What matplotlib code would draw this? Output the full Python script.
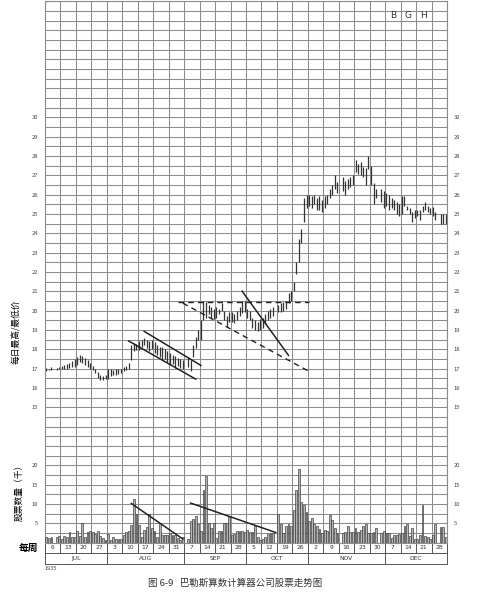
import numpy as np
import pandas as pd
import matplotlib
matplotlib.use("Agg")
import matplotlib.pyplot as plt

plt.rcParams['font.family'] = ['Noto Sans CJK SC', 'DejaVu Sans']

# 1935 sessions ran Mon-Sat; holidays dropped
holidays = ['1935-07-04', '1935-09-02', '1935-10-12', '1935-11-11', '1935-11-28', '1935-12-25']
days = pd.bdate_range('1935-07-01', '1935-12-28', freq='C',
                      weekmask='Mon Tue Wed Thu Fri Sat', holidays=holidays)
week_end = pd.date_range('1935-07-06', '1935-12-28', freq='7D')

# daily high / low, one line per week
highs = [
    17.05, 17.0, 17.1, 17.05, 17.1,
    17.15, 17.2, 17.25, 17.3, 17.4, 17.5,
    17.6, 17.7, 17.65, 17.55, 17.45, 17.3,
    17.15, 17.0, 16.8, 16.65, 16.6, 16.65,
    16.95, 17.0, 16.9, 16.95, 16.95, 17.0,
    17.1, 17.15, 17.3, 18.2, 18.3, 18.25,
    18.4, 18.5, 18.6, 18.5, 18.4, 18.45,
    18.35, 18.2, 18.1, 18.1, 18.0, 17.9,
    17.8, 17.7, 17.65, 17.55, 17.5, 17.45,
    17.55, 17.45, 18.2, 18.65, 19.0,
    19.5, 20.5, 20.45, 20.3, 20.2, 20.1,
    20.2, 20.1, 20.4, 20.0, 19.7, 19.9,
    19.9, 19.8, 20.0, 20.2, 20.5, 20.5,
    20.1, 20.0, 19.6, 19.5, 19.4, 19.55,
    19.6, 19.8, 20.0, 20.1, 20.2,
    20.3, 20.4, 20.45, 20.5, 20.9, 21.0,
    21.5, 22.5, 23.7, 24.2, 25.8, 26.0,
    26.0, 25.9, 26.0, 25.8, 25.9, 25.7,
    25.9, 26.0, 26.3, 26.5, 27.0, 26.65,
    26.9, 26.7, 26.8, 26.9, 27.0,
    27.8, 27.6, 27.7, 27.4, 27.35, 28.0,
    27.5, 26.6, 26.3, 26.3, 26.2,
    26.1, 26.0, 25.8, 25.7, 25.6, 25.5,
    25.9, 25.9, 25.4, 25.3, 25.1, 25.2,
    25.2, 25.2, 25.4, 25.6, 25.4, 25.3,
    25.35, 25.1, 25.0, 25.0, 25.0,
]
lows = [
    16.85, 16.9, 16.9, 16.9, 16.95,
    16.95, 16.95, 17.0, 17.05, 17.1, 17.1,
    17.2, 17.35, 17.3, 17.2, 17.1, 17.0,
    16.9, 16.75, 16.5, 16.4, 16.4, 16.45,
    16.45, 16.6, 16.65, 16.65, 16.7, 16.75,
    16.85, 16.9, 16.95, 17.45, 17.9, 17.95,
    17.95, 18.1, 18.2, 18.05, 17.9, 18.0,
    17.8, 17.7, 17.6, 17.45, 17.5, 17.35,
    17.2, 17.25, 17.05, 17.15, 17.05, 16.95,
    17.1, 16.85, 17.6, 18.05, 18.45,
    18.5, 19.5, 19.6, 19.8, 19.6, 19.55,
    19.6, 19.8, 19.95, 19.5, 19.15, 19.4,
    19.4, 19.35, 19.5, 19.7, 19.85, 19.9,
    19.6, 19.5, 19.1, 19.0, 18.95, 19.0,
    19.1, 19.3, 19.5, 19.6, 19.7,
    19.9, 19.9, 20.0, 20.1, 20.4, 20.5,
    21.0, 21.9, 22.5, 23.5, 24.6, 25.3,
    25.4, 25.3, 25.5, 25.2, 25.2, 25.1,
    25.3, 25.5, 25.8, 25.95, 26.3, 26.1,
    26.2, 26.0, 26.3, 26.4, 26.5,
    27.15, 27.05, 27.0, 26.9, 26.5, 27.3,
    26.5, 25.5, 25.8, 25.6, 25.3,
    25.4, 25.2, 25.3, 25.2, 25.0, 24.9,
    25.0, 25.4, 25.2, 25.0, 24.6, 24.8,
    24.9, 24.7, 25.1, 25.2, 25.1, 25.0,
    24.9, 24.7, 24.5, 24.5, 24.5,
]
# daily volume, thousands of shares
volume = [
    1.3, 1.1, 1.5, 1.4, 1.6,
    0.9, 1.6, 1.3, 2.7, 1.3, 1.4,
    3.1, 1.6, 5.0, 1.5, 2.6, 2.9,
    2.6, 2.2, 2.9, 1.8, 1.1, 0.7,
    2.2, 0.7, 1.4, 0.9, 0.8, 0.8,
    2.0, 2.8, 2.9, 4.5, 11.3, 7.5,
    4.5, 1.5, 3.3, 4.0, 7.3, 3.8,
    3.0, 1.5, 5.0, 2.0, 2.0, 2.0,
    2.4, 2.0, 2.0, 1.1, 0.7, 1.4,
    1.0, 5.5, 6.0, 6.8, 4.8,
    2.9, 13.7, 17.3, 5.0, 3.8, 5.0,
    1.1, 2.9, 2.9, 5.0, 5.0, 6.5,
    2.0, 2.2, 2.9, 3.1, 3.0, 2.6,
    3.3, 2.8, 2.8, 4.3, 1.3, 0.6,
    0.9, 1.5, 2.2, 2.5, 2.5,
    7.4, 4.8, 2.4, 4.3, 4.8, 4.3,
    8.5, 13.5, 19.0, 10.4, 9.8, 8.0,
    5.5, 6.3, 4.8, 4.3, 3.5, 2.5,
    3.3, 2.9, 7.2, 5.8, 3.7, 2.5,
    2.5, 2.7, 4.2, 2.7, 2.7,
    3.7, 2.6, 3.3, 4.3, 4.8, 2.4,
    2.4, 2.6, 3.7, 2.4, 2.9,
    2.4, 2.4, 1.1, 2.0, 2.0, 2.2,
    2.4, 4.2, 4.8, 1.8, 3.7, 1.0,
    0.9, 2.0, 9.8, 1.7, 1.4, 0.9,
    2.0, 4.8, 3.9, 3.9, 1.4,
]

# hand-drawn trend lines: (date, value) pairs
price_solid = [
    [('1935-08-14', 18.92), ('1935-09-09', 17.16)],
    [('1935-08-07', 18.42), ('1935-09-06', 16.45)],
    [('1935-09-27', 21.0), ('1935-10-18', 17.68)],
]
price_dashed = [
    [('1935-08-29', 20.45), ('1935-10-27', 20.45)],
    [('1935-08-31', 20.38), ('1935-10-27', 16.85)],
]
volume_lines = [
    [('1935-08-08', 10.1), ('1935-08-31', 0.9)],
    [('1935-09-04', 10.2), ('1935-10-12', 2.6)],
]

price_ticks = list(range(15, 31))
volume_ticks = [5, 10, 15, 20]

start = pd.Timestamp('1935-07-01')


def x_of(d):
    d = pd.Timestamp(d)
    return (d - start).days // 7 + (d.weekday() + 0.5) / 6


xs = np.array([x_of(d) for d in days])
n_weeks = len(week_end)
grid_c = '#8c8c8c'

fig = plt.figure(figsize=(4.96, 6.0), dpi=100)
ax = fig.add_axes([45 / 496, 1 - 542.5 / 600, 402 / 496, 541.3 / 600])
ax.set_xlim(0, n_weeks)
ax.set_ylim(8, 36)
ax.set_xticks(np.arange(0, n_weeks + 1))
yt = np.arange(8, 36.01, 0.5)
ax.set_yticks(yt)
ax.set_yticklabels([str(int(v)) if v == int(v) and v in price_ticks else '' for v in yt])
ax.grid(True, color=grid_c, lw=0.75)
ax.set_axisbelow(True)
for s in ax.spines.values():
    s.set_color(grid_c)
    s.set_linewidth(0.8)

ax.vlines(xs, lows, highs, color='#333333', lw=0.9)
for seg in price_solid:
    ax.plot([x_of(d) for d, v in seg], [v for d, v in seg], color='#222', lw=1.1)
for seg in price_dashed:
    ax.plot([x_of(d) for d, v in seg], [v for d, v in seg], color='#222', lw=1.0,
            dashes=(4, 3))

for i, ch in enumerate('BGH'):
    ax.text(22.5 + i, 35.25, ch, ha='center', va='center', fontsize=6.5,
            color='#333', family='DejaVu Sans')

# volume on its own scale, same grid
ax2 = ax.twinx()
ax2.set_ylim(0, 140)
ax2.set_yticks(volume_ticks)
for s in ax2.spines.values():
    s.set_visible(False)
ax2.bar(xs, volume, width=0.12, color='#b5b5b5', edgecolor='#333333', lw=0.45)
for seg in volume_lines:
    ax2.plot([x_of(d) for d, v in seg], [v for d, v in seg], color='#222', lw=1.1)

# labels on both sides (after twinx, which resets sides)
for a in (ax, ax2):
    a.tick_params(axis='y', length=0, labelleft=True, labelright=True,
                  labelsize=4.2, pad=5, labelcolor='#444')
ax.tick_params(axis='x', length=0, labelbottom=False)

# week / month strip under the chart
trans = ax.get_xaxis_transform()
h1 = 10.5 / 541.3
h2 = 21.5 / 541.3
kw = dict(transform=trans, clip_on=False, color='#555', lw=0.7)
ax.plot([0, n_weeks], [-h1, -h1], **kw)
ax.plot([0, n_weeks], [-h2, -h2], **kw)
for i in range(n_weeks + 1):
    ax.plot([i, i], [0, -h1], **kw)
for i in range(n_weeks):
    ax.text(i + 0.5, -h1 / 2, str(week_end[i].day), transform=trans,
            ha='center', va='center', fontsize=4.3, color='#333', family='DejaVu Sans')
months = [d.strftime('%b').upper() for d in week_end]
starts = [i for i in range(n_weeks) if i == 0 or months[i] != months[i - 1]] + [n_weeks]
for a, b in zip(starts[:-1], starts[1:]):
    ax.plot([a, a], [0, -h2], **kw)
    ax.text((a + b) / 2, -(h1 + h2) / 2, months[a], transform=trans,
            ha='center', va='center', fontsize=4.3, color='#333', family='DejaVu Sans')
ax.plot([n_weeks, n_weeks], [0, -h2], **kw)

fig.text(28 / 496, 1 - 548 / 600, '每周', ha='center', va='center', fontsize=7, fontweight='bold')
fig.text(45 / 496, 1 - 568 / 600, '1935', ha='left', va='center', fontsize=4, color='#444')
fig.text(17 / 496, 1 - 332 / 600, '每日最高/最低价', rotation=90, ha='center', va='center', fontsize=6.3)
fig.text(19 / 496, 1 - 490 / 600, '股票数量（千）', rotation=90, ha='center', va='center', fontsize=6.3)
fig.text(235 / 496, 1 - 583 / 600, '图 6-9   巴勒斯算数计算器公司股票走势图',
         ha='center', va='center', fontsize=6.8, color='#333')

fig.savefig('out.png', dpi=100)
